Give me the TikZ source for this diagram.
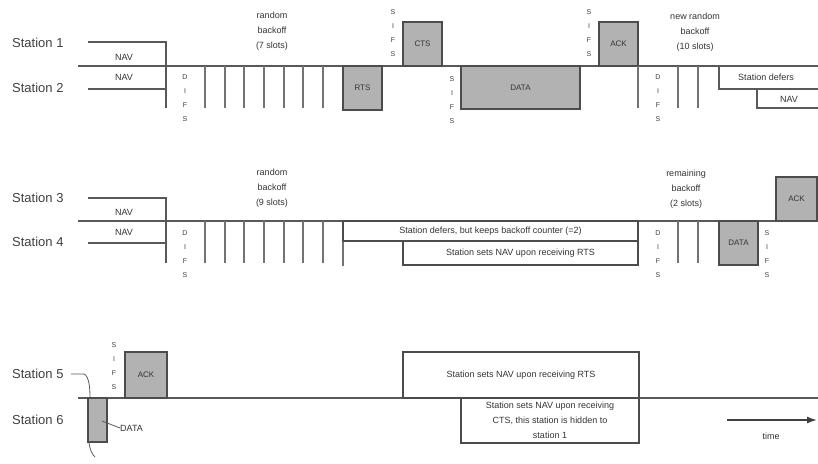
\documentclass[tikz,border=0pt]{standalone}
\usepackage{fontspec}
\setmainfont{Liberation Sans}
\usetikzlibrary{arrows.meta}
\begin{document}
\begin{tikzpicture}[x=1pt,y=-1pt,
  axis/.style={line width=1.8pt,draw=black!65},
  slotline/.style={line width=1.2pt,draw=black!55},
  navline/.style={line width=1.4pt,draw=black!65},
  frame/.style={draw=black!70,line width=1.4pt,fill=black!30,inner sep=0pt,outer sep=0pt,font=\fontsize{8}{9}\selectfont,text=black!80},
  infobox/.style={draw=black!70,line width=1.2pt,inner sep=0pt,outer sep=0pt,font=\fontsize{9}{11}\selectfont,text=black!80,align=center},
  stationlbl/.style={anchor=west,font=\fontsize{13}{15}\selectfont,text=black!75,inner sep=0pt},
  small/.style={font=\fontsize{9}{15}\selectfont,text=black!80,align=center,inner sep=0pt},
  letters/.style={font=\fontsize{7}{14}\selectfont,text=black!75,align=center,inner sep=0pt},
]
\useasboundingbox (0,0) rectangle (818,463);

% ---------------- Row 1 ----------------
\node[stationlbl] (s1) at (12,43) {Station 1};
\node[stationlbl] (s2) at (12,88) {Station 2};
\coordinate (a1s) at (78,66); \coordinate (a1e) at (818,66);
\draw[axis] (a1s) -- (a1e);
\draw[navline] (88,42) -- (166,42) -- (166,108);
\draw[navline] (88,89) -- (166,89);
\node[small] (nav1a) at (124,57) {NAV};
\node[small] (nav1b) at (124,77) {NAV};
\node[letters] (difs1) at (185,98) {D\\I\\F\\S};
\foreach \x in {205,225,244,264,284,303,323} \draw[slotline] (\x,66) -- (\x,108);
\node[small] (rb1) at (272,31) {random\\backoff\\(7 slots)};
\node[frame,minimum width=39pt,minimum height=44pt,anchor=north west] (rts) at (343,66) {RTS};
\node[letters] (sifs1) at (393,33) {S\\I\\F\\S};
\node[frame,minimum width=39pt,minimum height=44pt,anchor=south west] (cts) at (403,66) {CTS};
\node[letters] (sifs2) at (452,100) {S\\I\\F\\S};
\node[frame,minimum width=119pt,minimum height=43pt,anchor=north west] (data1) at (461,66) {DATA};
\node[letters] (sifs3) at (589,33) {S\\I\\F\\S};
\node[frame,minimum width=39pt,minimum height=44pt,anchor=south west] (ack1) at (599,66) {ACK};
\coordinate (d2top) at (638,66);
\coordinate (d2bot) at (638,108);
\draw[slotline] (d2top) -- (d2bot);
\node[letters] (difs2) at (658,98) {D\\I\\F\\S};
\foreach \x in {678,698} \draw[slotline] (\x,66) -- (\x,108);
\node[small] (nrb) at (695,32) {new random\\backoff\\(10 slots)};
\draw[navline,line width=1.2pt] (719,66) -- (719,89) -- (818,89);
\draw[navline,line width=1.2pt] (757,89) -- (757,108) -- (818,108);
\node[small] (defer2) at (766,77) {Station defers};
\node[small] (nav2) at (789,99) {NAV};

% ---------------- Row 2 ----------------
\node[stationlbl] (s3) at (12,198) {Station 3};
\node[stationlbl] (s4) at (12,242) {Station 4};
\coordinate (a2s) at (78,221); \coordinate (a2e) at (818,221);
\draw[axis] (a2s) -- (a2e);
\draw[navline] (88,198) -- (166,198) -- (166,263);
\draw[navline] (88,243) -- (166,243);
\node[small] (nav3a) at (124,212) {NAV};
\node[small] (nav3b) at (124,232) {NAV};
\node[letters] (difs3) at (185,254) {D\\I\\F\\S};
\foreach \x in {205,225,244,264,284,303,323} \draw[slotline] (\x,221) -- (\x,263);
\node[small] (rb2) at (272,188) {random\\backoff\\(9 slots)};
\draw[slotline] (343,241) -- (343,266);
\node[infobox,minimum width=295pt,minimum height=20pt,anchor=north west] (keep) at (343,221) {Station defers, but keeps backoff counter (=2)};
\node[infobox,minimum width=235pt,minimum height=24pt,anchor=north west] (nav4) at (403,241) {Station sets NAV upon receiving RTS};
\node[letters] (difs4) at (658,254) {D\\I\\F\\S};
\foreach \x in {678,698} \draw[slotline] (\x,221) -- (\x,263);
\node[small] (rem) at (686,189) {remaining\\backoff\\(2 slots)};
\node[frame,minimum width=39pt,minimum height=44pt,anchor=north west] (data4) at (719,221) {DATA};
\node[letters] (sifs4) at (767,254) {S\\I\\F\\S};
\node[frame,minimum width=41pt,minimum height=44pt,anchor=south west] (ack3) at (776,221) {ACK};

% ---------------- Row 3 ----------------
\node[stationlbl] (s5) at (12,374) {Station 5};
\node[stationlbl] (s6) at (12,420) {Station 6};
\coordinate (a3s) at (78,398); \coordinate (a3e) at (818,398);
\draw[axis] (a3s) -- (a3e);
\node[letters] (sifs5) at (114,366) {S\\I\\F\\S};
\node[frame,minimum width=42pt,minimum height=46pt,anchor=south west] (ack5) at (125,398) {ACK};
\node[frame,minimum width=19pt,minimum height=44pt,anchor=north west,line width=1.2pt] (data6) at (88,398) {};
\node[small,anchor=west] (data6lbl) at (120,428) {DATA};
\coordinate (d6pt) at (102,421);
\draw[navline,line width=0.8pt] (d6pt) -- (data6lbl.west);
\coordinate (s5start) at (71,374);
\coordinate (s5end) at (84,374);
\coordinate (s5hit) at (90,397);
\draw[navline,line width=0.8pt] (s5start) -- (s5end) .. controls (89,376) and (90,388) .. (s5hit);
\coordinate (c6a) at (89,443);
\coordinate (c6b) at (95,457);
\draw[navline,line width=0.8pt] (c6a) .. controls (90,450) and (92,454) .. (c6b);
\node[infobox,minimum width=236pt,minimum height=46pt,anchor=south west] (nav5) at (403,398) {Station sets NAV upon receiving RTS};
\node[infobox,minimum width=178pt,minimum height=45pt,anchor=north west,font=\fontsize{9}{15}\selectfont] (nav6) at (461,398) {Station sets NAV upon receiving\\CTS, this station is hidden to\\station 1};
\coordinate (t0) at (727,420);
\coordinate (t1) at (817,420);
\draw[line width=1.4pt,draw=black!75,-{Latex[length=10pt,width=7pt]}] (t0) -- (t1);
\node[small] (tl) at (771,436) {time};
\end{tikzpicture}
\end{document}
